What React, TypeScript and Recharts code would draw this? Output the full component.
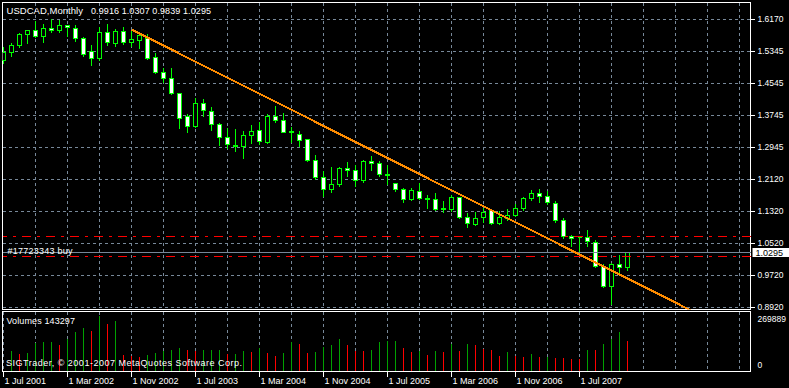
import React from "react";
import {
  ComposedChart,
  Bar,
  XAxis,
  YAxis,
  CartesianGrid,
  ReferenceLine,
  ReferenceArea,
} from "recharts";

const FONT = '"Liberation Sans", Arial, sans-serif';
const GRID_COLOR = "#778899";
const CANDLE_COLOR = "#00ff00";
const VOL_UP = "#00a000";
const VOL_DOWN = "#ff0000";
const TREND_COLOR = "#ff8c00";
const LEVEL_COLOR = "#ff0000";

const symbol = "USDCAD";
const period = "Monthly";
const orderLabel = "#17723343 buy";
const volumeTitle = "Volumes";
const copyright = "SIGTrader, \u00a9 2001-2007 MetaQuotes Software Corp.";

// monthly bars, Jul 2001 .. Jan 2008
const months = [
  "2001.07", "2001.08", "2001.09", "2001.10", "2001.11", "2001.12",
  "2002.01", "2002.02", "2002.03", "2002.04", "2002.05", "2002.06", "2002.07", "2002.08", "2002.09", "2002.10", "2002.11", "2002.12",
  "2003.01", "2003.02", "2003.03", "2003.04", "2003.05", "2003.06", "2003.07", "2003.08", "2003.09", "2003.10", "2003.11", "2003.12",
  "2004.01", "2004.02", "2004.03", "2004.04", "2004.05", "2004.06", "2004.07", "2004.08", "2004.09", "2004.10", "2004.11", "2004.12",
  "2005.01", "2005.02", "2005.03", "2005.04", "2005.05", "2005.06", "2005.07", "2005.08", "2005.09", "2005.10", "2005.11", "2005.12",
  "2006.01", "2006.02", "2006.03", "2006.04", "2006.05", "2006.06", "2006.07", "2006.08", "2006.09", "2006.10", "2006.11", "2006.12",
  "2007.01", "2007.02", "2007.03", "2007.04", "2007.05", "2007.06", "2007.07", "2007.08", "2007.09", "2007.10", "2007.11", "2007.12",
  "2008.01",
];

const opens = [
  1.5124, 1.5325, 1.5511, 1.5778, 1.5879, 1.5728,
  1.5939, 1.5879, 1.6022, 1.5939, 1.5688, 1.5361, 1.5174, 1.5838, 1.5562, 1.5854, 1.5577, 1.5627,
  1.5695, 1.5217, 1.484, 1.4689, 1.4304, 1.3733, 1.3464, 1.4052, 1.3846, 1.3532, 1.3197, 1.299,
  1.2961, 1.3237, 1.3373, 1.3079, 1.3733, 1.3632, 1.334, 1.328, 1.3154, 1.2626, 1.2191, 1.1879,
  1.2005, 1.2417, 1.2374, 1.2105, 1.2601, 1.2543, 1.2265, 1.204, 1.1889, 1.1637, 1.1846, 1.1665,
  1.1637, 1.14, 1.1386, 1.1688, 1.1185, 1.1016, 1.1175, 1.1351, 1.1034, 1.1149, 1.1235, 1.1411,
  1.1663, 1.1788, 1.172, 1.1537, 1.1117, 1.0714, 1.069, 1.0682, 1.0563, 0.9942, 0.9439, 1.0003,
  0.9916,
];

const highs = [
  1.5494, 1.5577, 1.5828, 1.5905, 1.6148, 1.6065,
  1.6191, 1.6165, 1.6047, 1.6047, 1.5728, 1.5544, 1.5997, 1.6065, 1.5929, 1.5997, 1.5896, 1.5828,
  1.5813, 1.5343, 1.4958, 1.4958, 1.4337, 1.3801, 1.4203, 1.4186, 1.3984, 1.3564, 1.3449, 1.3431,
  1.3381, 1.3532, 1.36, 1.3801, 1.401, 1.3834, 1.3464, 1.3363, 1.3172, 1.2777, 1.2374, 1.2475,
  1.2475, 1.2601, 1.2525, 1.2644, 1.2744, 1.2608, 1.2525, 1.2055, 1.1939, 1.1939, 1.2055, 1.1771,
  1.1814, 1.162, 1.1771, 1.172, 1.13, 1.1325, 1.1426, 1.1386, 1.1368, 1.1419, 1.1537, 1.1703,
  1.1889, 1.1904, 1.1854, 1.162, 1.1185, 1.0764, 1.0714, 1.0883, 1.0631, 1.0027, 1.0043, 1.0261,
  1.0307,
];

const lows = [
  1.5059, 1.5225, 1.5461, 1.5562, 1.572, 1.5577,
  1.5828, 1.5828, 1.5728, 1.5602, 1.5242, 1.5016, 1.5142, 1.5511, 1.5494, 1.5544, 1.5476, 1.5436,
  1.5167, 1.4807, 1.4571, 1.4286, 1.3413, 1.3313, 1.3449, 1.3733, 1.3363, 1.3003, 1.292, 1.2835,
  1.2676, 1.3046, 1.3029, 1.3046, 1.3564, 1.3313, 1.3061, 1.2961, 1.2583, 1.2141, 1.1703, 1.1803,
  1.1954, 1.2224, 1.1972, 1.2055, 1.2357, 1.2224, 1.2005, 1.1839, 1.1569, 1.162, 1.1637, 1.1419,
  1.1368, 1.13, 1.1325, 1.1149, 1.0933, 1.0973, 1.1049, 1.1016, 1.1016, 1.1117, 1.12, 1.1368,
  1.162, 1.1552, 1.1502, 1.1049, 1.0664, 1.0463, 1.0319, 1.0463, 0.9927, 0.9424, 0.9004, 0.9776,
  0.9839,
];

const closes = [
  1.5343, 1.5519, 1.5796, 1.5889, 1.5728, 1.5939,
  1.5879, 1.6022, 1.5964, 1.5688, 1.5275, 1.5174, 1.5846, 1.5577, 1.5871, 1.5577, 1.5662, 1.5771,
  1.5192, 1.4832, 1.4671, 1.4304, 1.3665, 1.3464, 1.4052, 1.3866, 1.3514, 1.3197, 1.3011, 1.2965,
  1.3255, 1.3348, 1.3086, 1.3733, 1.3615, 1.333, 1.332, 1.3112, 1.2608, 1.2181, 1.1889, 1.2022,
  1.2425, 1.2357, 1.2105, 1.2601, 1.2543, 1.2256, 1.225, 1.1889, 1.1637, 1.1851, 1.1663, 1.1645,
  1.1386, 1.1385, 1.1688, 1.1175, 1.1034, 1.1159, 1.131, 1.1034, 1.1185, 1.1235, 1.1411, 1.1663,
  1.1788, 1.1703, 1.1552, 1.1099, 1.0697, 1.0656, 1.067, 1.0581, 0.9942, 0.9439, 1.001, 0.9916,
  1.0295,
];

const volumes = [
  0, 99330, 85140, 86090, 137170, 138120,
  139060, 127710, 156090, 189200, 208120, 193930, 264880, 227040, 237920, 80410, 72370, 69530,
  80410, 89870, 97910, 100750, 113520, 104060, 99330, 100750, 101700, 104060, 83720, 85140,
  99330, 91290, 110210, 86560, 75680, 86560, 141900, 129130, 86560, 91290, 114940, 127710,
  156090, 124400, 99330, 96020, 100750, 141900, 145210, 146630, 110210, 91290, 99330, 80410,
  99330, 94600, 131020, 99330, 132440, 127710, 108790, 104060, 75680, 94600, 74260, 70950,
  85140, 67640, 69060, 64800, 62440, 61490, 58180, 104060, 103110, 132440, 156090, 189200,
  143297,
];

// axes
const xDomain = [-0.125, 93.375];
const gridBars = [4, 8, 12, 16, 20, 24, 28, 32, 36, 40, 44, 48, 52, 56, 60, 64, 68, 72, 76, 80, 84, 88, 92];
const labelBars = [0, 8, 16, 24, 32, 40, 48, 56, 64, 72];
const dateLabels = [
  "1 Jul 2001", "1 Mar 2002", "1 Nov 2002", "1 Jul 2003", "1 Mar 2004",
  "1 Nov 2004", "1 Jul 2005", "1 Mar 2006", "1 Nov 2006", "1 Jul 2007",
];
const priceDomain = [0.88697, 1.65927];
const priceGrid = [0.892, 0.9725, 1.053, 1.1335, 1.214, 1.2945, 1.375, 1.4555, 1.536, 1.6165];
const priceLabels = ["0.8920", "0.9720", "1.0520", "1.1320", "1.2120", "1.2945", "1.3745", "1.4545", "1.5345", "1.6170"];
const volumeDomain = [0, 283800];
const volumeTicks = [0, 269889];

// objects on the chart
const trendPoints = [
  { x: 16, y: 1.5913 },
  { x: 86, y: 0.8841 },
];
const bidPrice = 1.0295;
const levelPrices = [1.0706, 1.0203];

const volColors = volumes.map((v, i) => (i === 0 || v > volumes[i - 1] ? VOL_UP : VOL_DOWN));

const data = months.map((month, i) => ({
  i,
  month,
  open: opens[i],
  high: highs[i],
  low: lows[i],
  close: closes[i],
  range: [lows[i], highs[i]],
  volume: volumes[i],
}));

const last = data[data.length - 1];
const titleName = `${symbol},${period}`;
const titleQuotes = [last.open, last.high, last.low, last.close].map((v) => v.toFixed(4)).join(" ");

const px = (v: number) => Math.floor(v) + 0.5;

function Candle(props: any) {
  const { x, y, width, height, payload } = props;
  if (!payload || !Number.isFinite(y) || !Number.isFinite(height)) return null;
  const { open, close, high, low } = payload;
  const span = high - low || 1e-9;
  const toY = (p: number) => y + ((high - p) / span) * height;
  const cx = px(x + width / 2);
  const top = px(toY(Math.max(open, close)));
  const bot = px(toY(Math.min(open, close)));
  const bull = close > open;
  return (
    <g>
      <line x1={cx} x2={cx} y1={px(toY(high))} y2={px(toY(low))} stroke={CANDLE_COLOR} />
      {bot - top < 1 ? (
        <line x1={cx - 2} x2={cx + 2} y1={top} y2={top} stroke={CANDLE_COLOR} />
      ) : (
        <rect x={cx - 2} y={top} width={4} height={bot - top} fill={bull ? "#000" : "#fff"} stroke={CANDLE_COLOR} />
      )}
    </g>
  );
}

// one-pixel volume column, colour by rise/fall against the previous bar
const renderVolume = (props: any) => {
  const { x, y, width, height, index } = props;
  if (!Number.isFinite(y) || !height) return <g />;
  const left = Math.floor(x + width / 2);
  const top = Math.round(y);
  const bottom = Math.floor(y + height);
  if (bottom - top <= 0) return <g />;
  return <rect x={left} y={top} width={1} height={bottom - top} fill={volColors[index]} stroke="none" />;
};

function PriceTick(props: any) {
  const { x, y, payload } = props;
  const idx = priceGrid.indexOf(payload.value);
  if (idx < 0) return null;
  return (
    <text x={x} y={y + 2.5} fill="#fff" fontSize={8.5} fontFamily={FONT} textAnchor="start">
      {priceLabels[idx]}
    </text>
  );
}

function VolumeTick(props: any) {
  const { x, y, payload } = props;
  const shift = payload.value === 0 ? -4 : 7.5;
  return (
    <text x={x} y={y + shift} fill="#fff" fontSize={8.5} fontFamily={FONT} textAnchor="start">
      {payload.value}
    </text>
  );
}

function DateTick(props: any) {
  const { x, y, payload } = props;
  const idx = labelBars.indexOf(payload.value);
  if (idx < 0) return null;
  const cx = px(x);
  return (
    <g>
      <line x1={cx} x2={cx} y1={y - 6} y2={y - 1} stroke="#fff" />
      <text x={cx + 1} y={y + 6} fill="#fff" fontSize={9} fontFamily={FONT} textAnchor="start">
        {dateLabels[idx]}
      </text>
    </g>
  );
}

function BidLabel(props: any) {
  const vb = props.viewBox;
  if (!vb) return null;
  const y = px(vb.y);
  return (
    <g>
      <text x={vb.x + 5} y={y + 1} fill="#fff" fontSize={9} fontFamily={FONT} textLength={65} lengthAdjust="spacing">
        {orderLabel}
      </text>
      <rect x={vb.x + vb.width + 2} y={y - 4.5} width={37} height={9} fill="#fff" />
      <text x={vb.x + vb.width + 5} y={y + 3.5} fill="#000" fontSize={9} fontFamily={FONT}>
        {bidPrice.toFixed(4)}
      </text>
    </g>
  );
}

export default function App() {
  return (
    <div
      style={{
        position: "absolute",
        left: 0,
        top: 0,
        width: 789,
        height: 388,
        background: "#000",
        overflow: "hidden",
      }}
    >
      <style>{`.mt4 svg line, .mt4 svg path { shape-rendering: crispEdges; }`}</style>
      <div className="mt4" style={{ position: "absolute", left: 0, top: 0 }}>
        <ComposedChart
          width={789}
          height={313}
          data={data}
          margin={{ top: 2.5, right: 0, bottom: 3.5, left: 2.5 }}
        >
          <CartesianGrid stroke={GRID_COLOR} strokeDasharray="3 3" />
          <XAxis dataKey="i" type="number" domain={xDomain} ticks={gridBars} hide allowDataOverflow />
          <YAxis
            orientation="right"
            width={38.5}
            type="number"
            domain={priceDomain}
            ticks={priceGrid}
            interval={0}
            allowDataOverflow
            axisLine={false}
            tickSize={4}
            tickMargin={3}
            tickLine={{ stroke: "#fff" }}
            tick={<PriceTick />}
          />
          <Bar dataKey="range" barSize={4} shape={<Candle />} isAnimationActive={false} />
          {levelPrices.map((p) => (
            <ReferenceLine key={p} y={p} stroke={LEVEL_COLOR} strokeDasharray="9 6 3 6" />
          ))}
          <ReferenceLine y={bidPrice} stroke={GRID_COLOR} label={<BidLabel />} />
          <ReferenceLine segment={trendPoints} stroke={TREND_COLOR} strokeWidth={2} ifOverflow="hidden" />
          <ReferenceArea
            x1={xDomain[0]}
            x2={xDomain[1]}
            y1={priceDomain[0]}
            y2={priceDomain[1]}
            fill="none"
            stroke="#fff"
            ifOverflow="visible"
          />
        </ComposedChart>
      </div>
      <div className="mt4" style={{ position: "absolute", left: 0, top: 0 }}>
        <ComposedChart
          width={789}
          height={388}
          data={data}
          margin={{ top: 311.5, right: 0, bottom: 0, left: 2.5 }}
        >
          <CartesianGrid stroke={GRID_COLOR} strokeDasharray="3 3" horizontal={false} />
          <XAxis
            dataKey="i"
            type="number"
            domain={xDomain}
            ticks={[0, ...gridBars]}
            interval={0}
            allowDataOverflow
            height={16.5}
            axisLine={false}
            tickLine={false}
            tickSize={4}
            tickMargin={2}
            tick={<DateTick />}
          />
          <YAxis
            orientation="right"
            width={38.5}
            type="number"
            domain={volumeDomain}
            ticks={volumeTicks}
            interval={0}
            allowDataOverflow
            axisLine={false}
            tickLine={false}
            tickSize={4}
            tickMargin={3}
            tick={<VolumeTick />}
          />
          <Bar dataKey="volume" barSize={2} fill={VOL_UP} shape={renderVolume} isAnimationActive={false} />
          <ReferenceArea
            x1={xDomain[0]}
            x2={xDomain[1]}
            y1={volumeDomain[0]}
            y2={volumeDomain[1]}
            fill="none"
            stroke="#fff"
            ifOverflow="visible"
          />
        </ComposedChart>
      </div>
      <svg
        width={789}
        height={388}
        style={{ position: "absolute", left: 0, top: 0, pointerEvents: "none" }}
      >
        <text x={6.5} y={13.5} fill="#fff" fontSize={9.5} fontFamily={FONT} textLength={76.5} lengthAdjust="spacing">
          {titleName}
        </text>
        <text x={91} y={13.5} fill="#fff" fontSize={9} fontFamily={FONT} textLength={120} lengthAdjust="spacing">
          {titleQuotes}
        </text>
        <text x={6.5} y={324} fill="#fff" fontSize={9} fontFamily={FONT} textLength={68.5} lengthAdjust="spacing">
          {`${volumeTitle} ${last.volume}`}
        </text>
        <text x={6} y={365.5} fill="#fff" fontSize={9} fontFamily={FONT} textLength={236} lengthAdjust="spacing">
          {copyright}
        </text>
      </svg>
    </div>
  );
}
